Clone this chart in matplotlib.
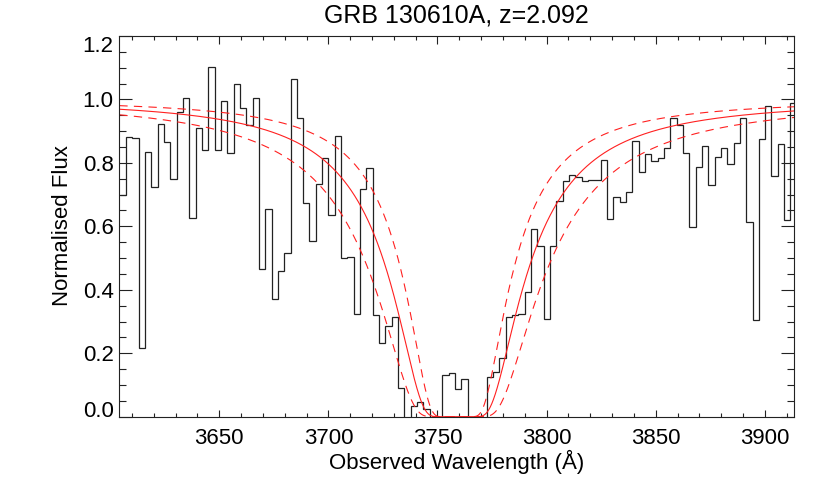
import numpy as np
import matplotlib
matplotlib.use("Agg")
import matplotlib.pyplot as plt
from matplotlib.ticker import MultipleLocator

# ---------------- data ----------------
wave_start = 3605.8   # centre of first spectral bin (Angstrom)
wave_end = 3913.2     # centre of last spectral bin (Angstrom)
flux = [
    0.700, 0.882, 0.877, 0.218, 0.835, 0.725, 0.924, 0.867, 0.748, 0.961,
    1.006, 0.627, 0.909, 0.840, 1.101, 0.842, 0.996, 0.832, 1.048, 0.974,
    0.919, 1.006, 0.466, 0.654, 0.371, 0.460, 0.515, 1.066, 0.940, 0.674,
    0.555, 0.732, 0.814, 0.636, 0.884, 0.501, 0.504, 0.324, 0.718, 0.783,
    0.320, 0.231, 0.286, 0.313, 0.089, -0.030, 0.034, 0.047, 0.023, -0.010,
    -0.020, 0.131, 0.137, 0.086, 0.118, -0.030, -0.030, -0.030, 0.126, 0.142,
    0.184, 0.315, 0.320, 0.324, 0.392, 0.591, 0.538, 0.307, 0.539, 0.681,
    0.744, 0.762, 0.756, 0.743, 0.746, 0.746, 0.809, 0.622, 0.693, 0.677,
    0.707, 0.869, 0.772, 0.827, 0.807, 0.816, 0.846, 0.940, 0.919, 0.830,
    0.597, 0.788, 0.853, 0.730, 0.819, 0.848, 0.795, 0.864, 0.940, 0.614,
    0.305, 0.874, 0.979, 0.758, 0.861, 0.620, 0.989,
]
z_abs = 2.092
logN_HI = 21.30
logN_err = 0.20

x_range = (3604.2, 3913.5)
y_range = (0.0, 1.2)
x_ticks = [3650, 3700, 3750, 3800, 3850, 3900]
y_ticks = [0.0, 0.2, 0.4, 0.6, 0.8, 1.0, 1.2]
title = "GRB 130610A, z=2.092"
xlabel = "Observed Wavelength (Å)"
ylabel = "Normalised Flux"

# ---------------- model ----------------
def dla_transmission(lam_obs, logN, z):
    lam0 = 1215.67e-8
    f_osc = 0.4164
    gamma = 6.265e8
    c = 2.99792458e10
    lam_rest = lam_obs * 1e-8 / (1.0 + z)
    nu = c / lam_rest
    nu0 = c / lam0
    phi = (gamma / (4 * np.pi ** 2)) / ((nu - nu0) ** 2 + (gamma / (4 * np.pi)) ** 2)
    sigma = 0.026540 * f_osc * phi
    return np.exp(-(10.0 ** logN) * sigma)

# ---------------- plot ----------------
plt.rcParams["font.family"] = ["Liberation Sans", "DejaVu Sans"]
plt.rcParams["lines.scale_dashes"] = False

fig = plt.figure(figsize=(8.30, 4.93), dpi=100)
ax = fig.add_axes([119.3 / 830, 76.3 / 493, 675.0 / 830, 380.7 / 493])

wave = np.linspace(wave_start, wave_end, len(flux))
dw = wave[1] - wave[0]
edges = np.concatenate([wave - dw / 2, [wave[-1] + dw / 2]])
ax.stairs(flux, edges, baseline=None, color="#222222", lw=0.9)

lam_model = np.linspace(x_range[0], x_range[1], 3000)
red = "#ff2020"
ax.plot(lam_model, dla_transmission(lam_model, logN_HI, z_abs), color=red, lw=0.8)
for d in (-logN_err, logN_err):
    ax.plot(lam_model, dla_transmission(lam_model, logN_HI + d, z_abs),
            color=red, lw=0.8, dashes=(6, 4.5))

ax.set_xlim(*x_range)
ax.set_ylim(*y_range)
ax.set_xticks(x_ticks)
ax.set_yticks(y_ticks)
ax.set_yticklabels([f"{v:.1f}" for v in y_ticks])
ax.xaxis.set_minor_locator(MultipleLocator(10))
ax.yaxis.set_minor_locator(MultipleLocator(0.05))

ax.tick_params(which="both", direction="in", top=True, right=True,
               colors="#222222", labelcolor="black", labelsize=16, width=0.8)
ax.tick_params(axis="x", which="major", length=5.4, pad=8)
ax.tick_params(axis="x", which="minor", length=2.7)
ax.tick_params(axis="y", which="major", length=9.7, pad=4)
ax.tick_params(axis="y", which="minor", length=4.9)
for s in ax.spines.values():
    s.set_linewidth(0.8)
    s.set_color("#222222")

ylabs = ax.get_yticklabels()
ylabs[0].set_va("baseline")
ylabs[-1].set_va("top")

xc = (119.3 + 794.3) / 2 / 830
fig.text(xc, 1 - 16 / 493, title, ha="center", va="center", fontsize=18)
fig.text(xc, 1 - 462 / 493, xlabel, ha="center", va="center", fontsize=16)
fig.text(62 / 830, 1 - 226 / 493, ylabel, ha="center", va="center",
         rotation=90, fontsize=16)

fig.savefig("out.png", dpi=100)
